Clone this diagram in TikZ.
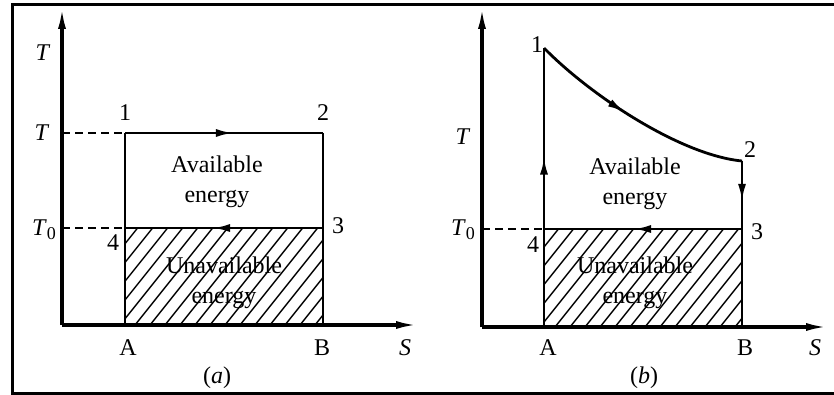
\documentclass[tikz,border=0pt]{standalone}
\usepackage{fontspec}
\setmainfont{Liberation Serif}
\usetikzlibrary{arrows.meta,decorations.markings,positioning}
\newcommand{\ital}[1]{\textit{#1}}
\newcommand{\tzero}{\textit{T}\raisebox{-0.35ex}{\fontsize{9}{9}\selectfont 0}}

\begin{document}
\begin{tikzpicture}[x=0.5pt, y=-0.5pt, line width=1.4pt,
  axis/.style={-{Latex[length=11pt,width=4pt]}, line width=1.6pt},
  guide/.style={line width=1.1pt, dash pattern=on 4pt off 2.5pt},
  hatch/.style={line width=0.7pt},
  flowat/.style={postaction={decorate}, decoration={markings, mark=at position #1 with {\arrow{Latex[length=9pt,width=4pt]}}}},
  every node/.style={font=\fontsize{12}{15}\selectfont, inner sep=1pt}]
\path[use as bounding box] (0,0) rectangle (834,395);
\draw[line width=1.5pt] (834,5) -- (12,5) -- (12,393) -- (834,393);
% (a) Carnot cycle
\coordinate (aO) at (62,325);
\coordinate (aTop) at (62,7);
\coordinate (aEnd) at (418,325);
\coordinate (aT) at (62,133);
\coordinate (aT0) at (62,228);
\coordinate (a1) at (125,133);
\coordinate (a2) at (323,133);
\coordinate (a3) at (323,228);
\coordinate (a4) at (125,228);
\coordinate (aA) at (125,325);
\coordinate (aB) at (323,325);
\begin{scope}
\clip (a4) rectangle (aB);
\foreach \x in {-90,-75,...,330}
  \draw[hatch] (\x,325) -- ++(80,-100);
\end{scope}
\draw[axis] (aO) -- (aTop);
\draw[axis] (aO) -- (aEnd);
\draw[guide] (aT) -- (a1);
\draw[guide] (aT0) -- (a4);
\draw[flowat=0.55] (a1) -- (a2);
\draw (a2) -- (a3);
\draw[flowat=0.56] (a3) -- (a4);
\draw (a4) -- (a1);
\draw (aA) -- (a4);
\draw (aB) -- (a3);
\node (aTlab) at (43,53) {\ital{T}};
\node (aTtick) at (42,133) {\ital{T}};
\node (aT0tick) at (44,230) {\tzero};
\node (aL1) at (125,113) {1};
\node (aL2) at (323,113) {2};
\node (aL3) at (338,226) {3};
\node (aL4) at (113,243) {4};
\node (aLA) at (128,348) {A};
\node (aLB) at (322,348) {B};
\node (aS) at (405,348) {\ital{S}};
\node (aCap) at (217,378) {(\ital{a})};
\node[align=center] (aAvail) at (217,182) {Available\\energy};
\node[align=center] (aUnavail) at (224,283) {Unavailable\\energy};
% (b) cycle with a curved expansion
\coordinate (bO) at (482,327);
\coordinate (bTop) at (482,7);
\coordinate (bEnd) at (828,327);
\coordinate (bT0) at (482,229);
\coordinate (b1) at (544,48);
\coordinate (b2) at (742,161);
\coordinate (b3) at (742,229);
\coordinate (b4) at (544,229);
\coordinate (bA) at (544,327);
\coordinate (bB) at (742,327);
\begin{scope}
\clip (b4) rectangle (bB);
\foreach \x in {-90,-75,...,330}
  \draw[hatch] (420+\x,327) -- ++(80,-100);
\end{scope}
\draw[axis] (bO) -- (bTop);
\draw[axis] (bO) -- (bEnd);
\draw[guide] (bT0) -- (b4);
\draw[flowat=0.4] (b4) -- (b1);
\draw[flowat=0.45] (b1) .. controls (590,95) and (680,155) .. (b2);
\draw[flowat=0.6] (b2) -- (b3);
\draw[flowat=0.55] (b3) -- (b4);
\draw (bA) -- (b4);
\draw (bB) -- (b3);
\node (bTlab) at (463,137) {\ital{T}};
\node (bT0tick) at (463,230) {\tzero};
\node (bL1) at (537,45) {1};
\node (bL2) at (750,150) {2};
\node (bL3) at (757,232) {3};
\node (bL4) at (533,245) {4};
\node (bLA) at (548,348) {A};
\node (bLB) at (745,348) {B};
\node (bS) at (815,348) {\ital{S}};
\node (bCap) at (644,378) {(\ital{b})};
\node[align=center] (bAvail) at (635,184) {Available\\energy};
\node[align=center] (bUnavail) at (635,283) {Unavailable\\energy};
\end{tikzpicture}
\end{document}
